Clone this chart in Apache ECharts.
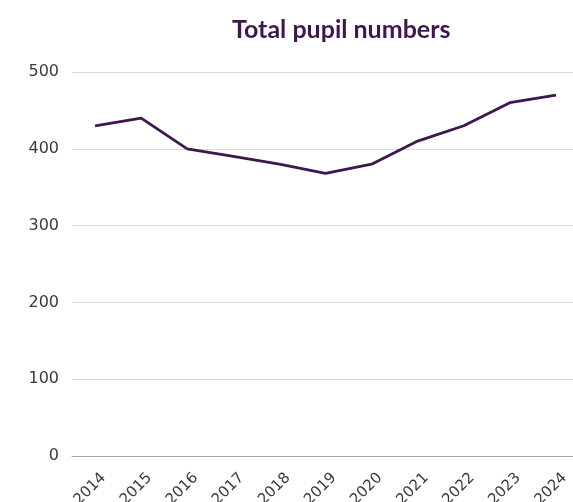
<!DOCTYPE html>
<html>
<head>
<meta charset="utf-8">
<script src="https://cdn.jsdelivr.net/npm/echarts@6/dist/echarts.min.js"></script>
<style>
  html, body { margin: 0; padding: 0; background: #fff; }
  #chart { width: 573px; height: 502px; }
</style>
</head>
<body>
<div id="chart"></div>
<script>
// School roll by year
const years = ['2014', '2015', '2016', '2017', '2018', '2019', '2020', '2021', '2022', '2023', '2024'];
const pupils = [430, 440, 400, 390, 380, 368, 380, 410, 430, 460, 470];
const yTicks = { min: 0, max: 500, interval: 100 };

const purple = '#40164f';
const labelFont = 'DejaVu Sans';
const chart = echarts.init(document.getElementById('chart'), null, { renderer: 'canvas' });
chart.setOption({
  animation: false,
  backgroundColor: '#ffffff',
  title: {
    text: 'Total pupil numbers',
    left: 227,
    top: 12,
    textStyle: { fontFamily: 'Lato', fontWeight: 'bold', fontSize: 25, color: purple }
  },
  grid: {
    left: 72, top: 72, width: 507, height: 384,
    containLabel: false,
    outerBoundsMode: 'none'
  },
  xAxis: {
    type: 'category',
    data: years,
    boundaryGap: true,
    axisLine: { show: true, lineStyle: { color: '#a6a6a6', width: 1 } },
    axisTick: { show: false },
    axisLabel: {
      rotate: 45,
      margin: 28,
      padding: [0, -12, 0, 0],
      fontFamily: labelFont,
      fontSize: 15,
      color: '#3a3a3a'
    },
    splitLine: { show: false }
  },
  yAxis: {
    type: 'value',
    min: yTicks.min,
    max: yTicks.max,
    interval: yTicks.interval,
    axisLine: { show: false },
    axisTick: { show: false },
    axisLabel: { margin: 13, fontFamily: labelFont, fontSize: 16, color: '#3a3a3a' },
    splitLine: { lineStyle: { color: '#d9d9d9', width: 1 } }
  },
  series: [{
    type: 'line',
    data: pupils,
    showSymbol: false,
    symbol: 'none',
    lineStyle: { color: purple, width: 2.8, join: 'round' }
  }]
});
</script>
</body>
</html>
